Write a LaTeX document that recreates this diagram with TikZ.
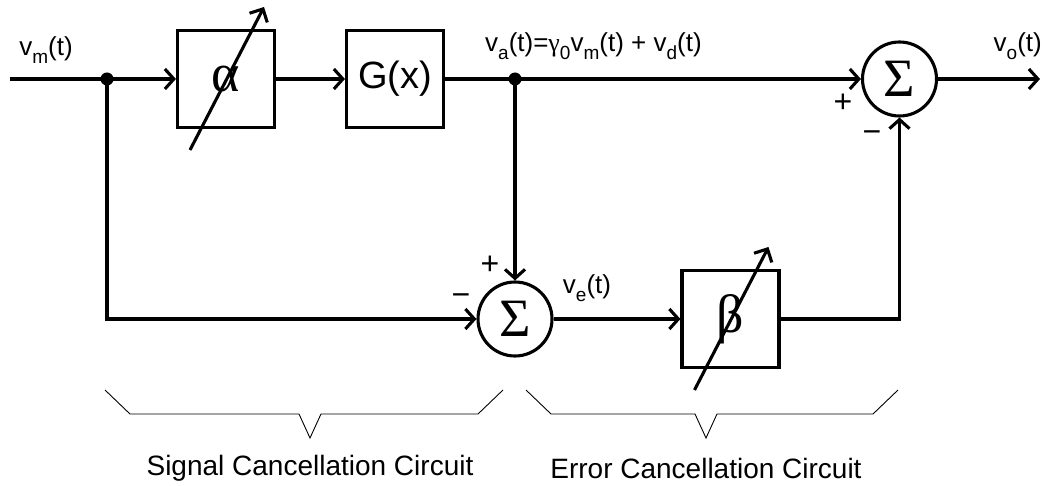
\documentclass[tikz,border=0pt]{standalone}
\usepackage{fontspec}
\setmainfont{Liberation Sans}
\newfontfamily\grk{Liberation Serif}
\usetikzlibrary{arrows.meta}
\newcommand{\lsub}[1]{\raisebox{-0.3em}{\fontsize{19}{19}\selectfont #1}}

\begin{document}
\begin{tikzpicture}[x=1pt, y=-1pt,
  sig/.style={line width=3.1pt, -{Straight Barb[length=9pt,width=20pt]}},
  tune/.style={line width=3.1pt, -{Straight Barb[length=10pt,width=20pt]}},
  blockbox/.style={draw, line width=3.1pt, minimum width=97pt, minimum height=97pt, inner sep=0pt},
  sumnode/.style={draw, circle, line width=3.1pt, minimum size=74pt, inner sep=0pt, font=\grk\fontsize{54}{54}\selectfont},
  lbl/.style={font=\fontsize{26}{30}\selectfont, inner sep=0pt},
  sign/.style={font=\fontsize{32}{32}\selectfont, inner sep=0pt},
  caption/.style={font=\fontsize{28}{32}\selectfont, inner sep=0pt},
  brace/.style={line width=0.9pt}]
  \useasboundingbox (0,0) rectangle (1042,486);
  % blocks
  \node[blockbox, font=\grk\fontsize{54}{54}\selectfont] (alpha) at (226,79) {α};
  \node[blockbox, font=\fontsize{38}{38}\selectfont] (gx) at (395,79) {G(x)};
  \node[blockbox, font=\grk\fontsize{54}{54}\selectfont] (beta) at (730.5,319) {β};
  \node[sumnode] (sumtop) at (899.5,79) {Σ};
  \node[sumnode] (sumbot) at (515,319) {Σ};
  \coordinate (in) at (10,79);
  \coordinate (out) at (1040,79);
  \coordinate (jm) at (107,79);
  \coordinate (ja) at (515,79);
  % signal paths
  \draw[sig] (in) -- (alpha.west);
  \draw[sig] (alpha) -- (gx);
  \draw[sig] (gx) -- (sumtop);
  \draw[sig] (sumtop) -- (out);
  \draw[sig] (ja) -- (sumbot);
  \draw[sig] (jm) |- (sumbot.west);
  \draw[sig] (sumbot) -- (beta);
  \draw[sig] (beta.east) -| (sumtop.south);
  \fill (jm) circle[radius=6.5];
  \fill (ja) circle[radius=6.5];
  \foreach \b in {alpha,beta}
    \draw[tune] ([shift={(-36,71)}]\b.center) -- ([shift={(38,-72)}]\b.center);
  % labels
  \node[lbl] (vm) at (46,50) {v\lsub{m}(t)};
  \node[lbl, anchor=base west] (va) at (485,52) {v\lsub{a}(t)={\grk γ}\lsub{0}v\lsub{m}(t) + v\lsub{d}(t)};
  \node[lbl, anchor=base east] (vo) at (1042,52) {v\lsub{o}(t)};
  \node[lbl] (ve) at (587,288) {v\lsub{e}(t)};
  \node[sign] (ptop) at (843,103) {+};
  \node[sign] (mtop) at (872,137) {−};
  \node[sign] (pbot) at (490,265) {+};
  \node[sign] (mbot) at (461,300) {−};
  % braces
  \foreach \L/\T/\R in {105/310/503,526/706/898}
    \draw[brace] (\L,390) -- (\L+25,414) -- (\T-11,414) -- (\T,438)
      -- (\T+11,414) -- (\R-25,414) -- (\R,390);
  \node[caption] (sigcap) at (310,468) {Signal Cancellation Circuit};
  \node[caption] (errcap) at (706,468) {Error Cancellation Circuit};
\end{tikzpicture}
\end{document}
